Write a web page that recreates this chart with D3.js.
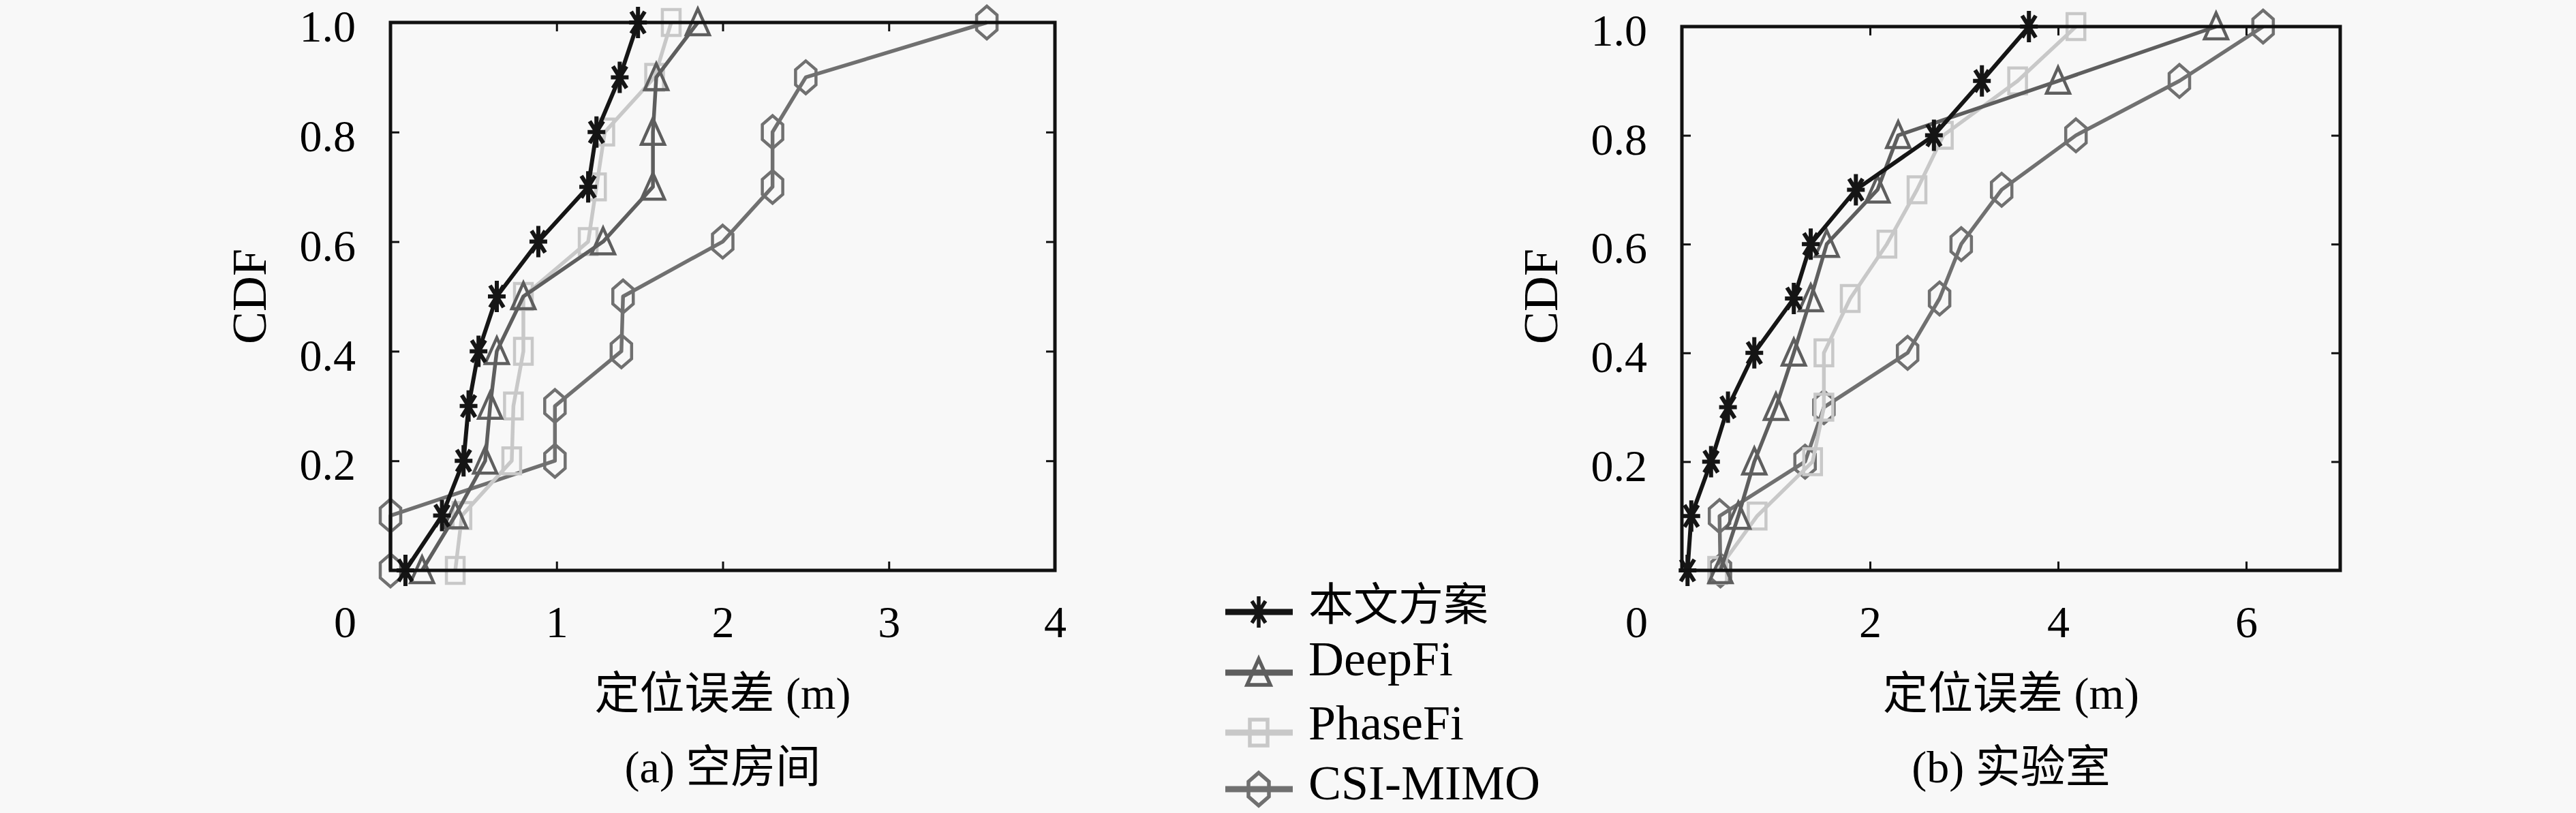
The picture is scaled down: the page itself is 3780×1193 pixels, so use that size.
<!DOCTYPE html>
<html><head><meta charset="utf-8">
<script src="https://cdn.jsdelivr.net/npm/d3@7"></script>
<style>html,body{margin:0;padding:0;background:#f8f8f8;}</style>
</head><body><svg id="c" width="3780" height="1193"></svg>
<script>
// ---------- data ----------
const cdfLevels = [0, 0.1, 0.2, 0.3, 0.4, 0.5, 0.6, 0.7, 0.8, 0.9, 1.0];
const seriesNames = ["本文方案", "DeepFi", "PhaseFi", "CSI-MIMO"];

// (a) 空房间 — localisation error (m) at each CDF level
const roomOurs    = [0.09, 0.31, 0.44, 0.47, 0.53, 0.64, 0.89, 1.19, 1.24, 1.38, 1.49];
const roomDeepFi  = [0.19, 0.39, 0.57, 0.60, 0.64, 0.80, 1.28, 1.58, 1.58, 1.60, 1.85];
const roomPhaseFi = [0.39, 0.43, 0.73, 0.74, 0.80, 0.80, 1.19, 1.24, 1.29, 1.59, 1.69];
const roomCsiMimo = [0.00, 0.00, 0.99, 0.99, 1.39, 1.40, 2.00, 2.30, 2.30, 2.50, 3.59];

// (b) 实验室
const labOurs    = [0.06, 0.10, 0.31, 0.49, 0.77, 1.19, 1.37, 1.85, 2.68, 3.19, 3.69];
const labDeepFi  = [0.41, 0.60, 0.77, 1.00, 1.19, 1.37, 1.54, 2.08, 2.30, 4.00, 5.68];
const labPhaseFi = [0.38, 0.80, 1.39, 1.51, 1.51, 1.79, 2.18, 2.50, 2.78, 3.57, 4.19];
const labCsiMimo = [0.41, 0.40, 1.31, 1.51, 2.40, 2.74, 2.97, 3.40, 4.19, 5.29, 6.18];

const roomXDomain = [0, 4];
const labXDomain = [0, 7];
const roomXTicks = [0, 1, 2, 3, 4];
const labXTicks = [0, 2, 4, 6];
const yTicks = [0.2, 0.4, 0.6, 0.8, 1.0];
const xTitle = "定位误差 (m)";
const yTitle = "CDF";
const captions = ["(a) 空房间", "(b) 实验室"];

// ---------- styles ----------
const colors = ["#151515", "#5e5e5e", "#c8c8c8", "#707070"];
const markerTypes = ["star", "tri", "sq", "hex"];
const latin = "'Liberation Serif','Times New Roman',serif";
const mixed = "'Liberation Serif','Noto Sans CJK SC',serif";
const FS = 66;

function markerPath(t) {
  if (t === "star") return "M0,-23V23M-13,0H13M-10,-16L10,16M-10,16L10,-16";
  if (t === "tri") return "M0,-20L17,18L-17,18Z";
  if (t === "sq") return "M-13,-19H13V19H-13Z";
  return "M0,-24L15,-11L15,11L0,24L-15,11L-15,-11Z";
}

const svg = d3.select("#c");
svg.append("rect").attr("width", 3780).attr("height", 1193).attr("fill", "#f8f8f8");

function panel(cfg) {
  const x = d3.scaleLinear().domain(cfg.domain).range([cfg.left, cfg.right]);
  const y = d3.scaleLinear().domain([0, 1]).range([cfg.bottom, cfg.top]);
  const g = svg.append("g");

  const order = [3, 2, 1, 0];
  order.forEach(i => {
    const pts = cfg.series[i].map((v, k) => [v, cdfLevels[k]]);
    g.append("path")
      .attr("d", d3.line().x(d => x(d[0])).y(d => y(d[1]))(pts))
      .attr("fill", "none").attr("stroke", colors[i])
      .attr("stroke-width", i === 0 ? 6 : 5.5).attr("stroke-linejoin", "round");
    g.selectAll(null).data(pts).enter().append("path")
      .attr("d", markerPath(markerTypes[i]))
      .attr("transform", d => `translate(${x(d[0])},${y(d[1])})`)
      .attr("fill", "none").attr("stroke", colors[i])
      .attr("stroke-width", i === 0 ? 6 : 4.5).attr("stroke-linejoin", "miter");
  });

  g.append("rect")
    .attr("x", cfg.left).attr("y", cfg.top)
    .attr("width", cfg.right - cfg.left).attr("height", cfg.bottom - cfg.top)
    .attr("fill", "none").attr("stroke", "#111").attr("stroke-width", 5);

  const ax = g.append("g").attr("transform", `translate(0,${cfg.bottom})`)
    .call(d3.axisBottom(x).tickValues(cfg.xticks).tickSize(-13).tickPadding(51).tickFormat(d3.format("d")));
  ax.select(".domain").remove();
  ax.selectAll(".tick line").attr("stroke", "#111").attr("stroke-width", 3)
    .filter(d => d === cfg.domain[0] || d === cfg.domain[1]).remove();
  ax.selectAll(".tick text").attr("font-family", latin).attr("font-size", FS).attr("fill", "#000")
    .filter(d => d === 0).attr("dx", -67);

  const at = g.append("g").attr("transform", `translate(0,${cfg.top})`)
    .call(d3.axisTop(x).tickValues(cfg.xticks.filter(d => d > cfg.domain[0] && d < cfg.domain[1])).tickSize(-13).tickFormat(""));
  at.select(".domain").remove();
  at.selectAll(".tick line").attr("stroke", "#111").attr("stroke-width", 3);

  const ay = g.append("g").attr("transform", `translate(${cfg.left},0)`)
    .call(d3.axisLeft(y).tickValues(yTicks).tickSize(-13).tickPadding(51).tickFormat(d3.format(".1f")));
  ay.select(".domain").remove();
  ay.selectAll(".tick line").attr("stroke", "#111").attr("stroke-width", 3)
    .filter(d => d === 1).remove();
  ay.selectAll(".tick text").attr("font-family", latin).attr("font-size", FS).attr("fill", "#000")
    .attr("dy", "0.42em");

  const ar = g.append("g").attr("transform", `translate(${cfg.right},0)`)
    .call(d3.axisRight(y).tickValues(yTicks.filter(d => d < 1)).tickSize(-13).tickFormat(""));
  ar.select(".domain").remove();
  ar.selectAll(".tick line").attr("stroke", "#111").attr("stroke-width", 3);

  g.append("text").attr("transform", `translate(${cfg.left - 183},435) rotate(-90)`)
    .attr("text-anchor", "middle").attr("font-family", latin).attr("font-size", 72).text(yTitle);
  const cx = (cfg.left + cfg.right) / 2;
  g.append("text").attr("x", cx).attr("y", 1040).attr("text-anchor", "middle")
    .attr("font-family", mixed).attr("font-size", FS).text(xTitle);
  g.append("text").attr("x", cx).attr("y", 1148).attr("text-anchor", "middle")
    .attr("font-family", mixed).attr("font-size", FS).text(cfg.caption);
}

panel({ left: 573, right: 1548, top: 33, bottom: 837, domain: roomXDomain, xticks: roomXTicks,
  series: [roomOurs, roomDeepFi, roomPhaseFi, roomCsiMimo], caption: captions[0] });
panel({ left: 2468, right: 3434, top: 39, bottom: 837, domain: labXDomain, xticks: labXTicks,
  series: [labOurs, labDeepFi, labPhaseFi, labCsiMimo], caption: captions[1] });

// ---------- legend ----------
const legRowY = [898, 987, 1075, 1158];
const legTextY = [910, 991, 1085, 1173];
const lg = svg.append("g");
seriesNames.forEach((name, i) => {
  lg.append("line").attr("x1", 1798).attr("x2", 1897).attr("y1", legRowY[i]).attr("y2", legRowY[i])
    .attr("stroke", colors[i]).attr("stroke-width", 9);
  lg.append("path").attr("d", markerPath(markerTypes[i]))
    .attr("transform", `translate(1847,${legRowY[i]})`)
    .attr("fill", "none").attr("stroke", colors[i]).attr("stroke-width", 5.5);
  lg.append("text").attr("x", 1920).attr("y", legTextY[i])
    .attr("font-family", mixed).attr("font-size", i === 0 ? FS : 72).attr("fill", "#000").text(name);
});
</script>
</body></html>
